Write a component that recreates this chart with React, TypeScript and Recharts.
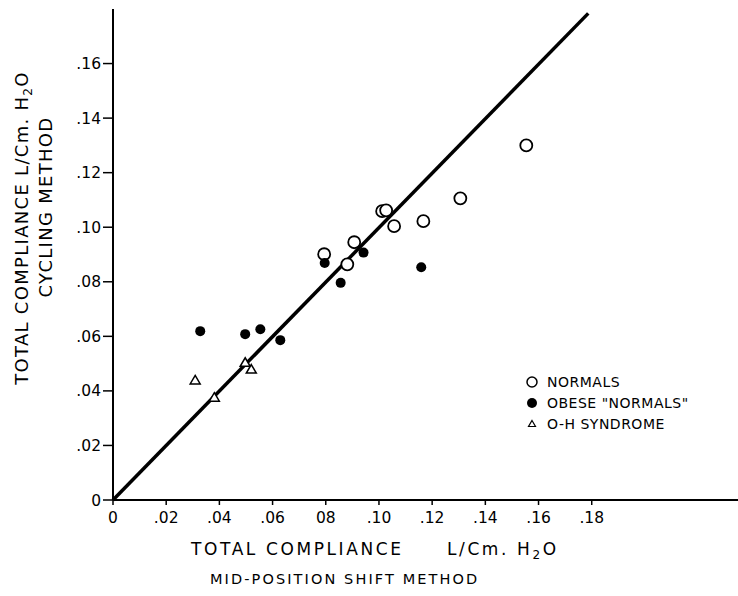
import React from "react";
import { ScatterChart, Scatter, XAxis, YAxis, ReferenceLine } from "recharts";

const normals = [
  { x: 0.1554, y: 0.13 },
  { x: 0.1306, y: 0.1106 },
  { x: 0.1167, y: 0.1022 },
  { x: 0.1057, y: 0.1004 },
  { x: 0.1012, y: 0.1059 },
  { x: 0.1027, y: 0.1062 },
  { x: 0.0907, y: 0.0945 },
  { x: 0.0794, y: 0.0901 },
  { x: 0.0881, y: 0.0864 },
];

const obeseNormals = [
  { x: 0.0796, y: 0.0869 },
  { x: 0.0942, y: 0.0907 },
  { x: 0.0856, y: 0.0796 },
  { x: 0.1159, y: 0.0853 },
  { x: 0.0328, y: 0.0619 },
  { x: 0.0497, y: 0.0608 },
  { x: 0.0554, y: 0.0626 },
  { x: 0.0629, y: 0.0586 },
];

const ohSyndrome = [
  { x: 0.0309, y: 0.044 },
  { x: 0.0497, y: 0.0505 },
  { x: 0.052, y: 0.048 },
  { x: 0.0381, y: 0.0377 },
];

const identityLine = [
  { x: 0, y: 0 },
  { x: 0.1787, y: 0.1784 },
];

const xTicks = [0, 0.02, 0.04, 0.06, 0.08, 0.1, 0.12, 0.14, 0.16, 0.18];
const xTickLabels = ["0", ".02", ".04", ".06", "08", ".10", ".12", ".14", ".16", ".18"];
const yTicks = [0, 0.02, 0.04, 0.06, 0.08, 0.1, 0.12, 0.14, 0.16];
const yTickLabels = ["0", ".02", ".04", ".06", ".08", ".10", ".12", ".14", ".16"];

const seriesNames = ["NORMALS", "OBESE \"NORMALS\"", "O-H SYNDROME"];

const FONT = "'DejaVu Sans', sans-serif";

const OpenCircle = (p: any) => (
  <circle cx={p.cx} cy={p.cy} r={6} fill="#fff" stroke="#000" strokeWidth={1.8} />
);
const FilledCircle = (p: any) => <circle cx={p.cx} cy={p.cy} r={5} fill="#000" stroke="none" />;
const Triangle = (p: any) => (
  <path
    d={`M${p.cx},${p.cy - 4.5} L${p.cx + 5},${p.cy + 4} L${p.cx - 5},${p.cy + 4} Z`}
    fill="#fff"
    stroke="#000"
    strokeWidth={1.5}
  />
);

const XTitle = () => (
  <g fontFamily={FONT} fill="#000">
    <text x={191} y={555} fontSize={17} letterSpacing={2.6}>
      TOTAL COMPLIANCE
      <tspan x={447}>L/Cm. H</tspan>
      <tspan dy={4} fontSize={12}>2</tspan>
      <tspan dy={-4}>O</tspan>
    </text>
    <text x={210} y={584} fontSize={14.5} letterSpacing={2.1}>MID-POSITION SHIFT METHOD</text>
  </g>
);

const YTitle = () => (
  <g fontFamily={FONT} fill="#000">
    <text transform="translate(28,228) rotate(-90)" textAnchor="middle" fontSize={18} letterSpacing={1.3}>
      TOTAL COMPLIANCE  L/Cm. H<tspan dy={4} fontSize={12}>2</tspan>
      <tspan dy={-4}>O</tspan>
    </text>
    <text transform="translate(52,207) rotate(-90)" textAnchor="middle" fontSize={18} letterSpacing={1.3}>
      CYCLING METHOD
    </text>
  </g>
);

const LegendBox = () => (
  <div
    style={{
      position: "absolute",
      left: 522,
      top: 371,
      fontFamily: FONT,
      fontSize: 14,
      letterSpacing: 0.5,
      color: "#000",
    }}
  >
    {seriesNames.map((n, i) => (
      <div key={n} style={{ display: "flex", alignItems: "center", height: 21 }}>
        <svg width={20} height={20} style={{ marginRight: 5 }}>
          {i === 0 && <circle cx={10} cy={10} r={5} fill="#fff" stroke="#000" strokeWidth={1.5} />}
          {i === 1 && <circle cx={10} cy={10} r={5} fill="#000" />}
          {i === 2 && <path d="M10,6.5 L13.5,12.5 L6.5,12.5 Z" fill="#fff" stroke="#000" strokeWidth={1.2} />}
        </svg>
        <span>{n}</span>
      </div>
    ))}
  </div>
);

export default function App() {
  return (
    <div style={{ position: "absolute", left: 0, top: 0, width: 738, height: 596, background: "#fff" }}>
      <ScatterChart width={738} height={596} margin={{ top: 9, right: 0, bottom: 0, left: 0 }}>
        <XAxis
          type="number"
          dataKey="x"
          domain={[0, 0.235]}
          ticks={xTicks}
          tickFormatter={(v: number, i: number) => xTickLabels[i]}
          height={96}
          axisLine={{ stroke: "#000", strokeWidth: 2 }}
          tickLine={{ stroke: "#000", strokeWidth: 1.5 }}
          tickSize={5}
          tickMargin={7}
          tick={{ fill: "#000", fontSize: 15.5, fontFamily: FONT }}
          label={<XTitle />}
          allowDataOverflow
        />
        <YAxis
          type="number"
          dataKey="y"
          domain={[0, 0.18]}
          ticks={yTicks}
          tickFormatter={(v: number, i: number) => yTickLabels[i]}
          width={113}
          axisLine={{ stroke: "#000", strokeWidth: 2 }}
          tickLine={{ stroke: "#000", strokeWidth: 1.5 }}
          tickSize={10}
          tick={{ fill: "#000", fontSize: 15.5, fontFamily: FONT }}
          label={<YTitle />}
          allowDataOverflow
        />
        <ReferenceLine
          segment={identityLine}
          stroke="#000"
          strokeWidth={3.5}
          ifOverflow="visible"
        />
        <Scatter name={seriesNames[0]} data={normals} shape={OpenCircle} isAnimationActive={false} />
        <Scatter name={seriesNames[1]} data={obeseNormals} shape={FilledCircle} isAnimationActive={false} />
        <Scatter name={seriesNames[2]} data={ohSyndrome} shape={Triangle} isAnimationActive={false} />
      </ScatterChart>
      <LegendBox />
    </div>
  );
}
